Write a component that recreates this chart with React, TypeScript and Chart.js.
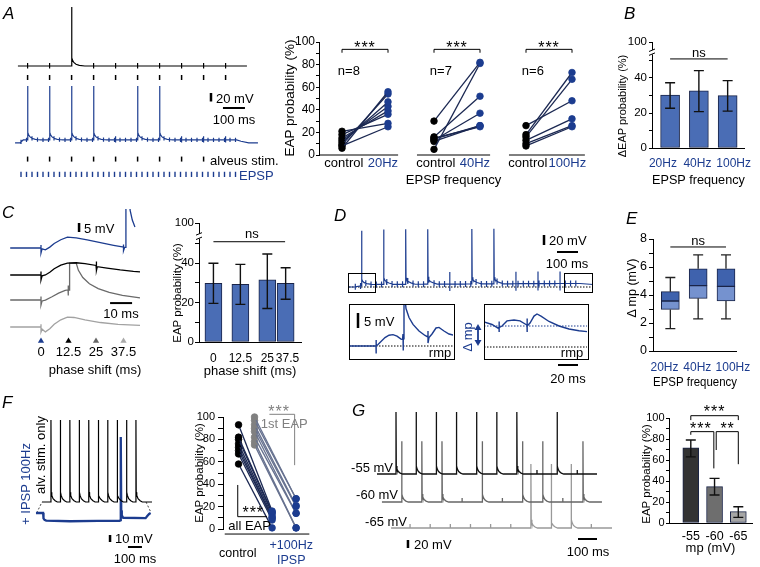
import React, { useEffect, useRef } from "react";
import { Chart, registerables } from "chart.js";

Chart.register(...registerables);

const FONT = "'Liberation Sans', Arial, Helvetica, sans-serif";
Chart.defaults.font.family = FONT;
Chart.defaults.font.size = 13;
Chart.defaults.color = "#000";

const BLUE = "#1c3c8f";
const NAVY = "#1b2852";
const BAR = "#4a6db5";
const BAR_EDGE = "#1a2448";
const BOX_D = "#3f62ad";
const BOX_L = "#7592cf";

// ---------------- Panel A : traces (ms / mV) ----------------
const A_STIM = [80, 180, 280, 380, 480, 580, 680, 780, 880, 980];
const A_EPSP = [50, 75, 100, 125, 150, 175, 200, 225, 250, 275, 300, 325, 350, 375, 400, 425, 450, 475, 500, 525, 550, 575, 600, 625, 650, 675, 700, 725, 750, 775, 800, 825, 850, 875, 900, 925, 950, 975, 1000, 1025];
const A_BLACK_SPIKES = [280];
const A_BLUE_SPIKES = [80, 180, 280, 380, 580, 680];
const A_BLUE_LEVEL = [[23, 0], [45, 0], [60, 7], [1030, 7], [1050, 4], [1085, 0], [1127, 0]];

// ---------------- Panel A : paired plots ----------------
const A_PAIR_LABELS = ["control", "20Hz", "control", "40Hz", "control", "100Hz"];
const A_PAIR_LABEL_POS = [0.04, 0.89, 2.04, 2.89, 4.04, 4.9];
const A_N_LABELS = ["n=8", "n=7", "n=6"];
const A_CTRL_20 = [6, 9, 11, 13, 15, 18, 21, 8];
const A_EPSP_20 = [56, 54, 47, 43, 39, 36, 28, 25];
const A_CTRL_40 = [30, 5, 16, 13, 12, 15, 14];
const A_EPSP_40 = [82, 81, 52, 37, 26, 25, 26];
const A_CTRL_100 = [18, 16, 26, 13, 10, 8];
const A_EPSP_100 = [73, 67, 48, 32, 26, 25];

// ---------------- Panel B ----------------
const B_CATS = ["20Hz", "40Hz", "100Hz"];
const B_LABEL_POS = [-0.25, 0.95, 2.21];
const B_MEAN = [30.3, 32.6, 29.9];
const B_LO = [22.7, 20.8, 21.1];
const B_HI = [37.3, 44.2, 38.5];
const BROKEN_TICKS = [0, 20, 40];

// ---------------- Panel C ----------------
const C_BLUE = [[-14, 0], [-1, 0], [0, 0], [0, 1.7], [0, -2.8], [0.5, -0.5], [2, -1], [4, 0.5], [6, 2.5], [9, 4.6], [12, 6], [16, 5.6], [21, 4.5], [27, 3], [33, 1.5], [37, 0.6], [37.5, 0.5], [37.5, 2], [37.5, -1.5], [38, 0.3], [38.6, 0.3], [38.6, 30], [40.3, 30], [40.5, 21], [41.5, 15.5], [42.7, 11.7]];
const C_BLACK = [[-14, 0], [-1, 0], [0, 0], [0, 2], [0, -2.8], [0.5, -0.5], [2, 0], [4, 1.5], [6, 3.5], [9, 5.5], [12, 6.6], [16, 6.8], [20, 6.3], [25, 5.3], [25.2, 5.3], [25.2, 7.5], [25.2, 2.5], [25.6, 4.6], [30, 3.8], [36, 2.8], [42, 2], [45, 1.7]];
const C_DGRAY = [[-14, 0], [-1, 0], [0, 0], [0, 2], [0, -2.8], [0.5, -0.5], [2, 0], [5, 1.8], [8, 3.8], [11, 5.3], [12.3, 5.6], [12.3, 8], [12.3, 2.5], [12.6, 5.5], [13, 5.5], [13, 20.5], [16, 20.5], [17, 16.5], [19, 12.5], [22, 9], [26, 6.3], [31, 4.2], [37, 2.6], [45, 1.2]];
const C_LGRAY = [[-14, 0], [-1, 0], [0, 0], [0, 1.5], [0, -2.8], [0.5, -1.2], [2, -2.7], [4, -1], [6, 1.5], [9, 4], [12, 5.5], [15, 5.3], [20, 4], [27, 2.5], [35, 1.5], [45, 0.9]];
const C_PHASES = [0, 12.5, 25, 37.5];
const C_CATS = ["0", "12.5", "25", "37.5"];
const C_POS = [0, 1, 2, 2.68];
const C_LABEL_POS = [0, 1, 2, 2.75];
const C_MEAN = [29.8, 29.3, 31.5, 29.8];
const C_LO = [19.6, 19.1, 17, 21.7];
const C_HI = [40, 39.4, 44.7, 37.7];

// ---------------- Panel D ----------------
const D_STIM = [60, 165, 270, 375, 480, 585, 690, 795, 900, 1005];
const D_SPIKES = [60, 165, 270, 375, 585, 690];
const D_EPSP = [30, 55, 80, 105, 130, 155, 180, 205, 230, 255, 280, 305, 330, 355, 380, 405, 430, 455, 480, 505, 530, 555, 580, 605, 630, 655, 680, 705, 730, 755, 780, 805, 830, 855, 880, 905, 930, 955, 980, 1005, 1030, 1055, 1080];
const D_LEVEL = [[0, 0], [25, 0], [100, 5], [1000, 7], [1100, 7], [1162, 5]];
const D_LEFT = [[0, 0], [27, 0], [27, 2], [27, -2.5], [27.5, 0], [29, 0.5], [32, 1.5], [36, 2.8], [40, 3.6], [44, 3.8], [48, 3.3], [52, 2.3], [53.5, 2.2], [54, 4], [54, -1.5], [54.5, 2], [55, 2.5], [55, 16], [56, 16], [57, 12.5], [60, 9.5], [64, 7.2], [70, 5], [76, 3.5], [79, 3], [79, 5], [79, 1], [80, 2.8], [83, 4], [87, 6], [90, 6.2], [95, 5], [100, 4], [105, 3.6]];
const D_RIGHT = [[0, 8.4], [8, 7.5], [14, 6.3], [15, 6.5], [15, 8.5], [15, 5], [15.5, 6.5], [18, 7], [23, 8.7], [30, 9], [36, 8.7], [42, 7.5], [43, 7.3], [43, 9.5], [43, 5], [43.5, 7], [46, 8], [50, 10.3], [53, 11], [57, 10.3], [65, 8.5], [75, 7], [85, 6], [95, 5.4], [104, 5.1]];
const D_MP = 7;

// ---------------- Panel E ----------------
const E_CATS = ["20Hz", "40Hz", "100Hz"];
const E_LABEL_POS = [-0.21, 0.97, 2.25];
const E_MIN = [1.6, 2.3, 2.3];
const E_Q1 = [2.97, 3.76, 3.57];
const E_MED = [3.57, 4.67, 4.62];
const E_Q3 = [4.24, 5.87, 5.87];
const E_MAX = [5.25, 6.87, 6.87];

// ---------------- Panel F ----------------
const F_SPIKES = [64, 131, 199, 266, 334, 401, 469, 536, 604, 671];
const F_BLUE = [[-43, -15.7], [8, -15.7], [9.5, -19], [12, -23.5], [18, -25.5], [30, -26.5], [200, -27.5], [400, -27], [555, -27], [560, -26], [562, -26], [562, 93], [564, 93], [566, -12], [570, -19], [580, -22.5], [740, -23], [752, -20], [765, -17], [776, -15.7]];
const F_CTRL_ALL = [93, 82, 80, 76, 73, 70, 67, 58];
const F_IPSP_ALL = [16, 15, 14, 12, 10, 10, 8, 1];
const F_CTRL_1ST = [100, 97, 93, 90, 87, 82, 78, 75];
const F_IPSP_1ST = [27, 27, 21, 20, 14, 14, 1, 1];
const F_POS = [0, 1, 2.1, 3.6];

// ---------------- Panel G ----------------
const G_STIM = [100, 206, 312, 418, 524, 630, 736, 842, 948, 1054];
const G55_SPIKES = [100, 206, 312, 418, 524, 630, 736, 948];
const G60_SPIKES = [100, 206, 312, 524, 736, 842, 1054];
const G65_SPIKES = [736, 842, 948];
const G_CATS = ["-55", "-60", "-65"];
const G_MEAN = [71.7, 34.6, 10.8];
const G_LO = [63, 26.7, 5.4];
const G_HI = [79, 42.5, 15.5];
const G_COLORS = ["#333333", "#6e6e6e", "#a6a6a6"];

// ---------------- shape templates (fraction of spike height vs ms after peak) ----------------
const DEC_A = [[1.5, 0.14], [4, 0.1], [10, 0.06], [20, 0.03], [35, 0.012], [60, 0]];
const DEC_D = [[1.5, 0.12], [5, 0.08], [12, 0.05], [25, 0.025], [45, 0]];
const DEC_F = [[2, 0.12], [6, 0.08], [15, 0.04], [30, 0.015], [45, 0]];
const DEC_G = [[1.5, 0.13], [5, 0.08], [12, 0.04], [22, 0.015], [35, 0]];

// ================= helpers =================
function lerp(pts: number[][], t: number) {
  if (t <= pts[0][0]) return pts[0][1];
  for (let i = 1; i < pts.length; i++) {
    if (t <= pts[i][0]) {
      const [a, va] = pts[i - 1];
      const [b, vb] = pts[i];
      return va + ((vb - va) * (t - a)) / (b - a || 1);
    }
  }
  return pts[pts.length - 1][1];
}

function buildTrace(o: any) {
  const { t0, t1, level, spikes, h, arts, decay } = o;
  const off = o.off || 0;
  const sh = o.shift || 0;
  const tmpl = [[0, 1], ...decay];
  const artMap = new Map<number, number[]>();
  arts.forEach((a: number[]) => {
    if (!spikes.includes(a[0])) artMap.set(a[0], a);
  });
  const base = (t: number) => {
    let v = lerp(level, t) + off;
    for (const s of spikes) {
      const d = t - s;
      if (d > 0) v += lerp(tmpl, d) * h;
    }
    return v;
  };
  const keys = new Set<number>([t0, t1]);
  level.forEach((p: number[]) => keys.add(p[0]));
  spikes.forEach((s: number) => {
    keys.add(s);
    decay.forEach((d: number[]) => keys.add(s + d[0]));
  });
  artMap.forEach((_v, t) => keys.add(t));
  const ts = Array.from(keys).filter((t) => t >= t0 && t <= t1).sort((a, b) => a - b);
  const pts: any[] = [];
  ts.forEach((t) => {
    const b = base(t);
    const x = t + sh;
    if (spikes.includes(t)) pts.push({ x, y: b }, { x, y: b + h });
    else if (artMap.has(t)) {
      const a = artMap.get(t)!;
      pts.push({ x, y: b }, { x, y: b + a[1] }, { x, y: b - a[2] }, { x, y: b });
    } else pts.push({ x, y: b });
  });
  return pts;
}

const P = (arr: number[][], off = 0) => arr.map(([x, y]) => ({ x, y: y + off }));

function line(data: any[], color: string, width = 1.2, dash?: number[]) {
  return { type: "line", data, borderColor: color, borderWidth: width, pointRadius: 0, fill: false, tension: 0, borderDash: dash || [], borderCapStyle: "butt", borderJoinStyle: "miter" };
}
function marks(data: any[], color: string, style: any = "line", r = 2.5, rot = 90, w = 1.5) {
  return { type: "line", data, showLine: false, pointStyle: style, rotation: rot, pointRadius: r, pointBorderWidth: w, pointBorderColor: color, pointBackgroundColor: color, borderColor: color, clip: false };
}

function rangeOf(ca: number[], xm: number[], ym: number[]) {
  const [l, t, r, b] = ca;
  return { xmin: (l - xm[0]) / xm[1], xmax: (r - xm[0]) / xm[1], ymin: (ym[0] - b) / ym[1], ymax: (ym[0] - t) / ym[1] };
}

function cfg(type: string, box: number[], ca: number[], xs: any, ys: any, datasets: any[], plugins: any[] = []) {
  const [L, T, W, H] = box;
  const [l, t, r, b] = ca;
  const xShown = xs.display !== false;
  const yShown = ys.display !== false;
  if (xShown) xs.afterFit = (s: any) => { s.height = T + H - b; };
  if (yShown) ys.afterFit = (s: any) => { s.width = l - L; };
  return {
    type,
    data: { datasets },
    plugins,
    options: {
      responsive: false,
      animation: false,
      events: [],
      layout: { autoPadding: false, padding: { left: yShown ? 0 : l - L, right: L + W - r, top: t - T, bottom: xShown ? 0 : T + H - b } },
      scales: { x: xs, y: ys },
      plugins: { legend: { display: false }, tooltip: { enabled: false } },
    },
  };
}

function hidden(min: number, max: number) {
  return { type: "linear", display: false, min, max };
}

function traceCfg(box: number[], xm: number[], ym: number[], datasets: any[]) {
  const ca = [box[0], box[1], box[0] + box[2], box[1] + box[3]];
  const R = rangeOf(ca, xm, ym);
  return cfg("line", box, ca, hidden(R.xmin, R.xmax), hidden(R.ymin, R.ymax), datasets);
}

function yAx(min: number, max: number, ticks: number[], label: (v: number) => string, tickLen = 4, pad = 2, fs = 12) {
  return {
    type: "linear",
    min,
    max,
    afterBuildTicks: (s: any) => { s.ticks = ticks.map((v) => ({ value: v })); },
    ticks: { autoSkip: false, padding: pad, font: { size: fs }, color: "#000", callback: (v: number) => label(v) },
    grid: { display: true, drawOnChartArea: false, drawTicks: true, tickLength: tickLen, color: "#000", lineWidth: 1 },
    border: { display: true, color: "#000", width: 1 },
    title: { display: false },
  };
}

function xAx(min: number, max: number, ticks: number[], labels: any[], colors: string[], pad: number, title?: string, tpb = 0, border = true, crossAlign = "near", fs = 12.5) {
  return {
    type: "linear",
    min,
    max,
    offset: false,
    afterBuildTicks: (s: any) => { s.ticks = ticks.map((v) => ({ value: v })); },
    ticks: { autoSkip: false, maxRotation: 0, minRotation: 0, padding: pad, font: { size: fs }, crossAlign, callback: (_v: any, i: number) => labels[i], color: (c: any) => colors[c.index] || "#000" },
    grid: { display: false, drawTicks: false, offset: false },
    border: { display: border, color: "#000", width: 1 },
    title: title ? { display: true, text: title, font: { size: 13 }, color: "#000", padding: { top: 0, bottom: tpb } } : { display: false },
  };
}

function anno(draw: (g: any) => void) {
  return {
    id: "anno",
    afterDraw(c: any) {
      const ctx = c.ctx;
      const X = (v: number) => c.scales.x.getPixelForValue(v);
      const Y = (v: number) => c.scales.y.getPixelForValue(v);
      const g = {
        X,
        Y,
        ctx,
        line: (pts: number[][], col = "#000", w = 1) => {
          ctx.save();
          ctx.strokeStyle = col;
          ctx.lineWidth = w;
          ctx.beginPath();
          pts.forEach(([x, y], i) => (i ? ctx.lineTo(X(x), Y(y)) : ctx.moveTo(X(x), Y(y))));
          ctx.stroke();
          ctx.restore();
        },
        text: (s: string, x: number, y: number, col = "#000", align = "center", size = 13, spacing = "0px") => {
          ctx.save();
          ctx.fillStyle = col;
          ctx.font = `${size}px ${FONT}`;
          try { (ctx as any).letterSpacing = spacing; } catch (e) {}
          ctx.textAlign = align;
          ctx.textBaseline = "alphabetic";
          ctx.fillText(s, X(x), Y(y));
          ctx.restore();
        },
      };
      draw(g);
    },
  };
}

function errPlugin(xs: number[], lo: number[], hi: number[], cap: number) {
  return {
    id: "err",
    afterDatasetsDraw(c: any) {
      const ctx = c.ctx;
      const X = c.scales.x;
      const Y = c.scales.y;
      ctx.save();
      ctx.strokeStyle = "#111";
      ctx.lineWidth = 1.4;
      xs.forEach((x, i) => {
        const px = X.getPixelForValue(x);
        const a = Y.getPixelForValue(lo[i]);
        const b = Y.getPixelForValue(hi[i]);
        ctx.beginPath();
        ctx.moveTo(px, a);
        ctx.lineTo(px, b);
        ctx.moveTo(px - cap / 2, a);
        ctx.lineTo(px + cap / 2, a);
        ctx.moveTo(px - cap / 2, b);
        ctx.lineTo(px + cap / 2, b);
        ctx.stroke();
      });
      ctx.restore();
    },
  };
}

function bars(vals: number[], colors: string | string[], thick: number, xs?: number[]) {
  return { type: "bar", data: vals.map((v, i) => ({ x: xs ? xs[i] : i, y: v })), backgroundColor: colors, borderColor: BAR_EDGE, borderWidth: 1, borderSkipped: false, barThickness: thick };
}

function pairSets(x0: number, x1: number, a: number[], b: number[], c0: string, c1: string, lc: string) {
  return a.map((v, i) => ({
    type: "line",
    data: [{ x: x0, y: v }, { x: x1, y: b[i] }],
    borderColor: lc,
    borderWidth: 1.3,
    pointRadius: 3.3,
    pointBorderWidth: 0.8,
    pointBackgroundColor: [c0, c1],
    pointBorderColor: [c0, c1],
    clip: false,
  }));
}

const evens20 = (v: number) => (Math.abs(v % 20) < 1e-6 ? String(v) : "");
const none = (_v: number) => "";

function drawBreak(c: any, v1: number, v2: number) {
  const ctx = c.ctx;
  const l = c.chartArea.left;
  const y1 = c.scales.y.getPixelForValue(v1);
  const y2 = c.scales.y.getPixelForValue(v2);
  ctx.save();
  ctx.fillStyle = "#fff";
  ctx.fillRect(l - 2, y2, 4, y1 - y2);
  ctx.strokeStyle = "#000";
  ctx.lineWidth = 1;
  ctx.beginPath();
  ctx.moveTo(l - 3, y1 + 1);
  ctx.lineTo(l + 3, y1 - 1.5);
  ctx.moveTo(l - 3, y2 + 1.5);
  ctx.lineTo(l + 3, y2 - 1);
  ctx.stroke();
  ctx.restore();
}

// ================= chart configs =================
function cfgATraces() {
  const box = [0, 0, 270, 188];
  const blueOff = -181;
  const black = buildTrace({ t0: 36, t1: 1077, level: [[0, 0]], spikes: A_BLACK_SPIKES, h: 139, arts: A_STIM.map((t) => [t, 7, 6]), decay: DEC_A });
  const blue = buildTrace({
    t0: 23, t1: 1127, level: A_BLUE_LEVEL, off: blueOff, spikes: A_BLUE_SPIKES, h: 127,
    arts: [...A_EPSP.map((t) => [t, 5, 5]), ...A_STIM.filter((t) => !A_BLUE_SPIKES.includes(t)).map((t) => [t, 9, 6])],
    decay: DEC_A,
  });
  return traceCfg(box, [10, 0.22], [66, 0.425], [
    line(black, "#000", 1.2),
    line(blue, BLUE, 1.2),
    marks(A_STIM.map((t) => ({ x: t, y: -27 })), "#000"),
    marks(A_STIM.slice(0, 9).map((t) => ({ x: t, y: -219 })), "#000"),
    marks(A_EPSP.map((t) => ({ x: t, y: -255 })), BLUE, "line", 2.6, 90, 1.4),
    line([{ x: 913.6, y: -63.5 }, { x: 913.6, y: -83.5 }], "#000", 2.5),
    line([{ x: 968, y: -98.8 }, { x: 1068, y: -98.8 }], "#000", 2),
  ]);
}

function cfgAPairs() {
  const box = [282, 30, 308, 160];
  const ca = [319, 42, 588, 155];
  const R = rangeOf(ca, [342, 46], [155, 1.13]);
  const ds = [
    ...pairSets(0, 1, A_CTRL_20, A_EPSP_20, "#000", BLUE, NAVY),
    ...pairSets(2, 3, A_CTRL_40, A_EPSP_40, "#000", BLUE, NAVY),
    ...pairSets(4, 5, A_CTRL_100, A_EPSP_100, "#000", BLUE, NAVY),
  ];
  const plug = anno((g) => {
    g.line([[-0.5, 0], [1.22, 0]]);
    g.line([[1.63, 0], [3.22, 0]]);
    g.line([[3.63, 0], [5.28, 0]]);
    [0, 2, 4].forEach((x0, k) => {
      g.line([[x0, 90.5], [x0, 93.5], [x0 + 1, 93.5], [x0 + 1, 90.5]]);
      g.text("***", x0 + 0.5, 90.5, "#000", "center", 16, "1px");
      g.text(A_N_LABELS[k], x0 - 0.09, 71, "#000", "left", 13);
    });
  });
  return cfg(
    "line", box, ca,
    xAx(R.xmin, R.xmax, A_PAIR_LABEL_POS, A_PAIR_LABELS, ["#000", BLUE, "#000", BLUE, "#000", BLUE], 1, "EPSP frequency", 2, false, "near", 13),
    yAx(0, 100, [0, 10, 20, 30, 40, 50, 60, 70, 80, 90, 100], evens20, 3, 1, 12),
    ds, [plug]
  );
}

function cfgB() {
  const box = [616, 30, 144, 160];
  const ca = [652, 42, 752, 148];
  const R = rangeOf(ca, [671.5, 31], [148, 1.75]);
  const plug = anno((g) => {
    g.line([[0, 50.9], [2, 50.9]]);
    g.text("ns", 1, 52, "#000", "center", 13);
  });
  const brk = { id: "brk", afterDraw: (c: any) => drawBreak(c, 53.5, 56) };
  return cfg(
    "bar", box, ca,
    xAx(R.xmin, R.xmax, B_LABEL_POS, B_CATS, [BLUE, BLUE, BLUE], 8, "EPSP frequency", 2.2, true, "near", 12),
    yAx(0, R.ymax, [0, 10, 20, 30, 40, 50, R.ymax], none, 3, 2, 12),
    [bars(B_MEAN, BAR, 19)],
    [errPlugin([0, 1, 2], B_LO, B_HI, 10), plug, brk]
  );
}

function cfgCTraces() {
  const box = [0, 209, 182, 175];
  const ca = [9, 209, 181, 344];
  const R = rangeOf(ca, [41, 2.2], [248, 1.8]);
  const ys = hidden(R.ymin, R.ymax);
  const ds = [
    line(P(C_BLUE, 0), BLUE, 1.3),
    line(P(C_BLACK, -15), "#000", 1.3),
    line(P(C_DGRAY, -28.9), "#6a6a6a", 1.3),
    line(P(C_LGRAY, -43.9), "#a2a2a2", 1.3),
    {
      ...marks(C_PHASES.map((t) => ({ x: t, y: -51.7 })), "#000", "triangle", 3.6, 0, 0),
      pointBackgroundColor: [BLUE, "#000", "#666", "#aaa"],
      pointBorderColor: [BLUE, "#000", "#666", "#aaa"],
    },
    line([{ x: 17.3, y: 13.9 }, { x: 17.3, y: 8.9 }], "#000", 2.5),
    line([{ x: 31.4, y: -30.6 }, { x: 41.4, y: -30.6 }], "#000", 2),
  ];
  return cfg("line", box, ca, xAx(R.xmin, R.xmax, C_PHASES, C_CATS, [], 1, "phase shift (ms)", 6.2, false, "near", 13), ys, ds);
}

function cfgCBars() {
  const box = [172, 209, 140, 175];
  const ca = [199, 223, 301, 342];
  const R = rangeOf(ca, [214, 28], [342, 1.97]);
  const plug = anno((g) => {
    g.line([[0, 50.9], [2.66, 50.9]]);
    g.text("ns", 1.43, 53, "#000", "center", 13);
  });
  const brk = { id: "brk", afterDraw: (c: any) => drawBreak(c, 52.5, 55) };
  return cfg(
    "bar", box, ca,
    xAx(R.xmin, 3.25, C_LABEL_POS, C_CATS, [], 9, "phase shift (ms)", 5.2, true, "near", 12),
    yAx(0, R.ymax, [0, 10, 20, 30, 40, 50, R.ymax], none, 4, 2, 12),
    [bars(C_MEAN, BAR, 17, C_POS)],
    [errPlugin(C_POS, C_LO, C_HI, 10), plug, brk]
  );
}

function cfgDMain() {
  const box = [345, 220, 255, 78];
  const tr = buildTrace({
    t0: 0, t1: 1162, level: D_LEVEL, spikes: D_SPIKES, h: 110,
    arts: [...D_EPSP.map((t) => [t, 6, 6]), ...D_STIM.filter((t) => !D_SPIKES.includes(t)).map((t) => [t, 24, 14])],
    decay: DEC_D,
  });
  return traceCfg(box, [349, 0.21], [287, 0.5], [
    line(tr, BLUE, 1.2),
    line([{ x: 0, y: 0 }, { x: 1162, y: 0 }], "#000", 1, [1.5, 1.5]),
    line([{ x: 928.6, y: 104 }, { x: 928.6, y: 84 }], "#000", 2.5),
    line([{ x: 990.5, y: 70 }, { x: 1090.5, y: 70 }], "#000", 2),
  ]);
}

function cfgDLeft() {
  const box = [350, 305, 103, 53];
  return traceCfg(box, [349, 1], [346, 3], [
    line(P(D_LEFT), BLUE, 1.4),
    line([{ x: 0, y: 0 }, { x: 106, y: 0 }], "#000", 1, [1.5, 1.5]),
    line([{ x: 9, y: 11 }, { x: 9, y: 6 }], "#000", 2.5),
  ]);
}

function cfgDRight() {
  const box = [485, 305, 102, 53];
  return traceCfg(box, [484, 1], [347, 3], [
    line(P(D_RIGHT), BLUE, 1.4),
    line([{ x: 0, y: D_MP }, { x: 106, y: D_MP }], BLUE, 1, [1.5, 1.5]),
    line([{ x: 0, y: 0 }, { x: 106, y: 0 }], "#000", 1, [1.5, 1.5]),
  ]);
}

function cfgE() {
  const box = [624, 225, 136, 167];
  const ca = [653, 239, 745, 351];
  const R = rangeOf(ca, [672, 30.5], [351, 14]);
  const box1 = { type: "bar", data: E_Q1.map((q, i) => ({ x: i, y: [q, E_MED[i]] })), backgroundColor: BOX_L, borderColor: BAR_EDGE, borderWidth: 1, borderSkipped: false, barThickness: 18, grouped: false };
  const box2 = { type: "bar", data: E_MED.map((m, i) => ({ x: i, y: [m, E_Q3[i]] })), backgroundColor: BOX_D, borderColor: BAR_EDGE, borderWidth: 1, borderSkipped: false, barThickness: 18, grouped: false };
  const plug = anno((g) => {
    E_MIN.forEach((mn, i) => {
      const x = g.X(i);
      const ctx = g.ctx;
      ctx.save();
      ctx.strokeStyle = "#222";
      ctx.lineWidth = 1.3;
      ctx.beginPath();
      ctx.moveTo(x, g.Y(E_Q3[i])); ctx.lineTo(x, g.Y(E_MAX[i]));
      ctx.moveTo(x - 5, g.Y(E_MAX[i])); ctx.lineTo(x + 5, g.Y(E_MAX[i]));
      ctx.moveTo(x, g.Y(E_Q1[i])); ctx.lineTo(x, g.Y(mn));
      ctx.moveTo(x - 5, g.Y(mn)); ctx.lineTo(x + 5, g.Y(mn));
      ctx.stroke();
      ctx.restore();
    });
    g.line([[0, 7.43], [2, 7.43]]);
    g.text("ns", 1, 7.57, "#000", "center", 13);
  });
  return cfg(
    "bar", box, ca,
    xAx(R.xmin, R.xmax, E_LABEL_POS, E_CATS, [BLUE, BLUE, BLUE], 9, "EPSP frequency", 2.2, true, "near", 12),
    yAx(0, 8, [0, 1, 2, 3, 4, 5, 6, 7, 8], (v) => (v % 2 === 0 ? String(v) : ""), 4, 2, 12.5),
    [box2, box1],
    [plug]
  );
}

function cfgFTraces() {
  const box = [28, 405, 135, 150];
  const black = buildTrace({ t0: 0, t1: 786, level: [[0, 0]], spikes: F_SPIKES, h: 117, arts: [], decay: DEC_F });
  return traceCfg(box, [42, 0.14], [502, 0.7], [
    line(black, "#000", 1.2),
    line(P(F_BLUE), BLUE, 2.3),
    line([{ x: -38, y: -15.7 }, { x: 0, y: 0 }], "#444", 1, [2, 2]),
    line([{ x: 743, y: 0 }, { x: 776, y: -14 }], "#444", 1, [2, 2]),
    line([{ x: 486, y: -47.1 }, { x: 486, y: -57.1 }], "#000", 2.5),
    line([{ x: 614, y: -64.3 }, { x: 714, y: -64.3 }], "#000", 2),
  ]);
}

function cfgFPairs() {
  const box = [194, 405, 136, 162];
  const ca = [223, 417, 330, 529];
  const R = rangeOf(ca, [241, 18.5], [529, 1.12]);
  const ds = [
    ...pairSets(F_POS[0], F_POS[2], F_CTRL_ALL, F_IPSP_ALL, "#000", BLUE, NAVY),
    ...pairSets(F_POS[1], F_POS[3], F_CTRL_1ST, F_IPSP_1ST, "#808080", BLUE, "#66718f"),
  ];
  const plug = anno((g) => {
    g.line([[-0.865, -4.5], [4.43, -4.5]]);
    g.line([[1.93, 102.4], [3.51, 102.4], [3.51, 57]], "#808080", 1);
    g.text("***", 2.54, 100, "#808080", "center", 16, "1px");
    g.text("1st EAP", 2.86, 90.5, "#808080", "center", 13);
    g.line([[-0.05, 39.3], [-0.05, 11], [1.78, 11]], "#000", 1);
    g.text("***", 0.92, 9.8, "#000", "center", 16, "1px");
    g.text("all EAP", 0.69, -1, "#000", "center", 13);
  });
  return cfg(
    "line", box, ca,
    xAx(R.xmin, R.xmax, [-0.05, 3.3], ["control", ["+100Hz", "IPSP"]], ["#000", BLUE], 17, undefined, 0, false, "center", 12.5),
    yAx(0, 100, [0, 10, 20, 30, 40, 50, 60, 70, 80, 90, 100], evens20, 5, 3, 11),
    ds, [plug]
  );
}

function cfgGTraces() {
  const box = [370, 400, 250, 160];
  const arts = (sp: number[]) => G_STIM.filter((t) => !sp.includes(t)).map((t) => [t, 10, 0]);
  const t55 = buildTrace({ t0: 0, t1: 1158, level: [[0, 0]], spikes: G55_SPIKES, h: 155, arts: arts(G55_SPIKES), decay: DEC_G });
  const t60 = buildTrace({ t0: -4, t1: 1154, level: [[0, 0]], off: -70, shift: 30, spikes: G60_SPIKES, h: 152, arts: arts(G60_SPIKES), decay: DEC_G });
  const t65 = buildTrace({ t0: 0, t1: 1163, level: [[0, 0]], off: -135, shift: 74, spikes: G65_SPIKES, h: 160, arts: arts(G65_SPIKES), decay: DEC_G });
  return traceCfg(box, [377, 0.19], [474, 0.4], [
    line(t55, "#111", 1.3),
    line(t60, "#666", 1.3),
    line(t65, "#999", 1.3),
    line([{ x: 163, y: -165 }, { x: 163, y: -185 }], "#000", 2.5),
    line([{ x: 1058, y: -162.5 }, { x: 1158, y: -162.5 }], "#000", 2),
  ]);
}

function cfgGBars() {
  const box = [644, 400, 116, 167];
  const ca = [669, 418, 752, 523];
  const R = rangeOf(ca, [690.8, 23.75], [523, 1.05]);
  const plug = anno((g) => {
    g.line([[0, 98], [0, 102.2], [2, 102.2], [2, 98]]);
    g.text("***", 1.0, 101, "#000", "center", 16, "1px");
    g.line([[0, 84], [0, 87], [0.97, 87], [0.97, 52]]);
    g.text("***", 0.42, 85.2, "#000", "center", 16, "1px");
    g.line([[1.07, 69.5], [1.07, 87], [2, 87], [2, 56]]);
    g.text("**", 1.55, 85.2, "#000", "center", 16, "1px");
  });
  return cfg(
    "bar", box, ca,
    xAx(R.xmin, R.xmax, [0, 1, 2], G_CATS, [], 6, "mp (mV)", 11, true, "near", 12.5),
    yAx(0, 100, [0, 10, 20, 30, 40, 50, 60, 70, 80, 90, 100], evens20, 3, 1.5, 11),
    [bars(G_MEAN, G_COLORS, 16)],
    [errPlugin([0, 1, 2], G_LO, G_HI, 10), plug]
  );
}

// ================= components =================
function ChartBox({ box, make }: { box: number[]; make: () => any }) {
  const ref = useRef<HTMLCanvasElement>(null);
  useEffect(() => {
    const chart = new Chart(ref.current as HTMLCanvasElement, make());
    return () => chart.destroy();
  }, []);
  const [l, t, w, h] = box;
  return <canvas ref={ref} width={w} height={h} style={{ position: "absolute", left: l, top: t, width: w, height: h, zIndex: 1 }} />;
}

function T({ x, y, s, a = "l", c = "#000", fs = 13, it = false, rot = false, z = 2 }: any) {
  const tx = a === "l" ? "0" : a === "c" ? "-50%" : "-100%";
  const style: any = {
    position: "absolute",
    left: x,
    top: y,
    zIndex: z,
    transform: rot ? "translate(-50%,-50%) rotate(-90deg)" : `translate(${tx},-50%)`,
    fontSize: fs,
    fontFamily: FONT,
    color: c,
    whiteSpace: "nowrap",
    lineHeight: 1,
    fontStyle: it ? "italic" : "normal",
  };
  return <div style={style}>{s}</div>;
}

function Box({ l, t, w, h }: any) {
  return <div style={{ position: "absolute", left: l, top: t, width: w, height: h, border: "1px solid #000", boxSizing: "border-box", zIndex: 2 }} />;
}

export default function App() {
  return (
    <div style={{ position: "fixed", left: 0, top: 0, width: 760, height: 567, background: "#fff", overflow: "hidden", fontFamily: FONT }}>
      <ChartBox box={[0, 0, 270, 188]} make={cfgATraces} />
      <ChartBox box={[282, 30, 308, 160]} make={cfgAPairs} />
      <ChartBox box={[616, 30, 144, 160]} make={cfgB} />
      <ChartBox box={[0, 209, 182, 175]} make={cfgCTraces} />
      <ChartBox box={[172, 209, 140, 175]} make={cfgCBars} />
      <ChartBox box={[345, 220, 255, 78]} make={cfgDMain} />
      <ChartBox box={[350, 305, 103, 53]} make={cfgDLeft} />
      <ChartBox box={[485, 305, 102, 53]} make={cfgDRight} />
      <ChartBox box={[624, 225, 136, 167]} make={cfgE} />
      <ChartBox box={[28, 405, 135, 150]} make={cfgFTraces} />
      <ChartBox box={[194, 405, 136, 162]} make={cfgFPairs} />
      <ChartBox box={[370, 400, 250, 160]} make={cfgGTraces} />
      <ChartBox box={[644, 400, 116, 167]} make={cfgGBars} />

      <Box l={348} t={273} w={28} h={20} />
      <Box l={564} t={273} w={29} h={20} />
      <Box l={349} t={304} w={106} h={56} />
      <Box l={484} t={304} w={105} h={56} />
      <div style={{ position: "absolute", left: 558, top: 364, width: 20, height: 2, background: "#000", zIndex: 2 }} />
      <svg style={{ position: "absolute", left: 473, top: 324, zIndex: 2 }} width={10} height={22}>
        <line x1={5} y1={4} x2={5} y2={18} stroke={BLUE} strokeWidth={1.8} />
        <polygon points="5,0 1.5,6 8.5,6" fill={BLUE} />
        <polygon points="5,22 1.5,16 8.5,16" fill={BLUE} />
      </svg>

      {/* axis titles */}
      <T x={290} y={98} s="EAP probability (%)" fs={13.5} rot />
      <T x={622} y={106} s={"\u0394EAP probability (%)"} fs={11} rot />
      <T x={178} y={293} s="EAP probability (%)" fs={11.5} rot />
      <T x={632} y={288} s={"\u0394 mp (mV)"} fs={12.5} rot />
      <T x={200} y={473} s="EAP probability (%)" fs={11.5} rot />
      <T x={647} y={474} s="EAP probability (%)" fs={11.5} rot />

      <T x={3} y={13} s="A" fs={17} it />
      <T x={216} y={98} s="20 mV" />
      <T x={234} y={119} s="100 ms" a="c" />
      <T x={210} y={160} s="alveus stim." />
      <T x={239} y={175} s="EPSP" c={BLUE} />

      <T x={624} y={13} s="B" fs={17} it />

      <T x={2} y={212} s="C" fs={17} it />
      <T x={84} y={228} s="5 mV" />
      <T x={121} y={313} s="10 ms" a="c" />

      <T x={334} y={215} s="D" fs={17} it />
      <T x={549} y={240} s="20 mV" />
      <T x={567} y={263} s="100 ms" a="c" />
      <T x={364} y={321} s="5 mV" />
      <T x={440} y={352} s="rmp" a="c" />
      <T x={572} y={352} s="rmp" a="c" />
      <T x={467} y={337} s={"\u0394 mp"} c={BLUE} rot />
      <T x={568} y={378} s="20 ms" a="c" />

      <T x={626} y={218} s="E" fs={17} it />

      <T x={2} y={402} s="F" fs={17} it />
      <T x={25} y={484} s="+ IPSP 100Hz" c={BLUE} rot />
      <T x={40} y={455} s="alv. stim. only" rot />
      <T x={115} y={538} s="10 mV" />
      <T x={135} y={558} s="100 ms" a="c" />

      <T x={352} y={410} s="G" fs={17} it />
      <T x={393} y={467} s="-55 mV" a="r" />
      <T x={398} y={494} s="-60 mV" a="r" />
      <T x={407} y={521} s="-65 mV" a="r" />
      <T x={414} y={544} s="20 mV" />
      <T x={588} y={551} s="100 ms" a="c" />

      {/* broken-axis tick labels (B, C) — drawn last, on top */}
      <T x={647} y={148} s="0" a="r" fs={11.5} z={5} />
      <T x={647} y={113} s="20" a="r" fs={11.5} z={5} />
      <T x={647} y={78} s="40" a="r" fs={11.5} z={5} />
      <T x={647} y={42} s="100" a="r" fs={11.5} z={5} />
      <T x={194} y={342} s="0" a="r" fs={11.5} z={5} />
      <T x={194} y={302.6} s="20" a="r" fs={11.5} z={5} />
      <T x={194} y={263.2} s="40" a="r" fs={11.5} z={5} />
      <T x={194} y={223} s="100" a="r" fs={11.5} z={5} />
    </div>
  );
}
